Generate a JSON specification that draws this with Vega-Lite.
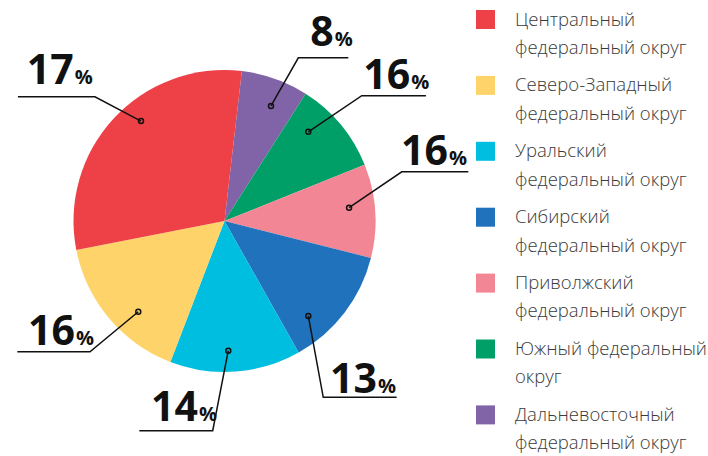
{
  "$schema": "https://vega.github.io/schema/vega-lite/v6.json",
  "width": 449,
  "height": 442,
  "padding": 0,
  "background": "white",
  "autosize": {"type": "pad"},
  "config": {"view": {"stroke": null}},
  "datasets": {
    "slices": [
      {"region": "Дальневосточный федеральный округ", "share": 7.2, "label": "8", "rank": 1},
      {"region": "Южный федеральный округ", "share": 9.9, "label": "16", "rank": 2},
      {"region": "Приволжский федеральный округ", "share": 10.0, "label": "16", "rank": 3},
      {"region": "Сибирский федеральный округ", "share": 12.9, "label": "13", "rank": 4},
      {"region": "Уральский федеральный округ", "share": 14.0, "label": "14", "rank": 5},
      {"region": "Северо-Западный федеральный округ", "share": 16.1, "label": "16", "rank": 6},
      {"region": "Центральный федеральный округ", "share": 29.9, "label": "17", "rank": 7}
    ],
    "leaders": [
      {"region": "Центральный федеральный округ", "seq": 1, "x": -55.3, "y": 66.2},
      {"region": "Центральный федеральный округ", "seq": 2, "x": -85.8, "y": 82.3},
      {"region": "Центральный федеральный округ", "seq": 3, "x": -136.8, "y": 82.3},
      {"region": "Дальневосточный федеральный округ", "seq": 1, "x": 30.8, "y": 76.2},
      {"region": "Дальневосточный федеральный округ", "seq": 2, "x": 48.9, "y": 108.1},
      {"region": "Дальневосточный федеральный округ", "seq": 3, "x": 82.0, "y": 108.1},
      {"region": "Южный федеральный округ", "seq": 1, "x": 55.5, "y": 59.1},
      {"region": "Южный федеральный округ", "seq": 2, "x": 90.9, "y": 83.0},
      {"region": "Южный федеральный округ", "seq": 3, "x": 133.4, "y": 83.0},
      {"region": "Приволжский федеральный округ", "seq": 1, "x": 82.5, "y": 8.8},
      {"region": "Приволжский федеральный округ", "seq": 2, "x": 117.4, "y": 32.6},
      {"region": "Приволжский федеральный округ", "seq": 3, "x": 161.5, "y": 32.6},
      {"region": "Сибирский федеральный округ", "seq": 1, "x": 55.5, "y": -62.9},
      {"region": "Сибирский федеральный округ", "seq": 2, "x": 65.4, "y": -116.8},
      {"region": "Сибирский федеральный округ", "seq": 3, "x": 114.0, "y": -116.8},
      {"region": "Уральский федеральный округ", "seq": 1, "x": 2.5, "y": -85.9},
      {"region": "Уральский федеральный округ", "seq": 2, "x": -7.8, "y": -138.9},
      {"region": "Уральский федеральный округ", "seq": 3, "x": -56.4, "y": -138.9},
      {"region": "Северо-Западный федеральный округ", "seq": 1, "x": -57.1, "y": -60.1},
      {"region": "Северо-Западный федеральный округ", "seq": 2, "x": -89.1, "y": -86.6},
      {"region": "Северо-Западный федеральный округ", "seq": 3, "x": -137.2, "y": -86.6}
    ],
    "labels": [
      {"region": "Центральный федеральный округ", "label": "17", "x": -99.9, "y": 90.7},
      {"region": "Дальневосточный федеральный округ", "label": "8", "x": 72.3, "y": 116.2},
      {"region": "Южный федеральный округ", "label": "16", "x": 123.0, "y": 87.2},
      {"region": "Приволжский федеральный округ", "label": "16", "x": 148.0, "y": 37.1},
      {"region": "Сибирский федеральный округ", "label": "13", "x": 101.0, "y": -113.7},
      {"region": "Уральский федеральный округ", "label": "14", "x": -17.6, "y": -132.5},
      {"region": "Северо-Западный федеральный округ", "label": "16", "x": -99.0, "y": -82.1}
    ]
  },
  "layer": [
    {
      "data": {"name": "slices"},
      "mark": {"type": "arc", "outerRadius": 151, "strokeWidth": 0},
      "encoding": {
        "theta": {"field": "share", "type": "quantitative", "stack": true, "scale": {"range": [0.1152, 6.3984]}},
        "order": {"field": "rank", "type": "quantitative"},
        "color": {
          "field": "region",
          "type": "nominal",
          "scale": {
            "domain": [
              "Центральный федеральный округ",
              "Северо-Западный федеральный округ",
              "Уральский федеральный округ",
              "Сибирский федеральный округ",
              "Приволжский федеральный округ",
              "Южный федеральный округ",
              "Дальневосточный федеральный округ"
            ],
            "range": ["#EE4047", "#FED46A", "#00BEDF", "#1F72BB", "#F38694", "#009F68", "#8064A7"]
          },
          "legend": {
            "title": null,
            "orient": "none",
            "legendX": 476,
            "legendY": 10,
            "padding": 0,
            "symbolType": "square",
            "symbolSize": 361,
            "symbolStrokeWidth": 0,
            "symbolOpacity": 1,
            "labelFont": "Open Sans",
            "labelFontSize": 18.5,
            "labelFontWeight": 300,
            "labelColor": "#3a3a3a",
            "labelLimit": 400,
            "labelOffset": 20,
            "rowPadding": 17.9,
            "labelExpr": "datum.label == 'Южный федеральный округ' ? ['Южный федеральный', 'округ'] : [split(datum.label, ' ')[0], 'федеральный округ']",
            "encode": {"labels": {"update": {"lineHeight": {"value": 28.4}}}}
          }
        }
      }
    },
    {
      "data": {"name": "leaders"},
      "mark": {"type": "line", "color": "#111111", "strokeWidth": 1.5},
      "encoding": {
        "x": {"field": "x", "type": "quantitative", "axis": null, "scale": {"domain": [-148.68, 148.68], "nice": false, "zero": false}},
        "y": {"field": "y", "type": "quantitative", "axis": null, "scale": {"domain": [-146.36, 146.36], "nice": false, "zero": false}},
        "detail": {"field": "region", "type": "nominal"},
        "order": {"field": "seq", "type": "quantitative"}
      }
    },
    {
      "data": {"name": "leaders"},
      "transform": [{"filter": "datum.seq == 1"}],
      "mark": {"type": "point", "shape": "circle", "filled": false, "size": 25, "stroke": "#111111", "strokeWidth": 1.5, "opacity": 1},
      "encoding": {
        "x": {"field": "x", "type": "quantitative", "axis": null, "scale": {"domain": [-148.68, 148.68], "nice": false, "zero": false}},
        "y": {"field": "y", "type": "quantitative", "axis": null, "scale": {"domain": [-146.36, 146.36], "nice": false, "zero": false}}
      }
    },
    {
      "data": {"name": "labels"},
      "mark": {"type": "text", "align": "right", "baseline": "alphabetic", "font": "Open Sans", "fontSize": 41, "fontWeight": 700, "color": "#111111"},
      "encoding": {
        "x": {"field": "x", "type": "quantitative", "axis": null, "scale": {"domain": [-148.68, 148.68], "nice": false, "zero": false}},
        "y": {"field": "y", "type": "quantitative", "axis": null, "scale": {"domain": [-146.36, 146.36], "nice": false, "zero": false}},
        "text": {"field": "label", "type": "nominal"}
      }
    },
    {
      "data": {"name": "labels"},
      "mark": {"type": "text", "align": "left", "baseline": "alphabetic", "dx": 1, "font": "Open Sans", "fontSize": 20, "fontWeight": 700, "color": "#111111", "text": "%"},
      "encoding": {
        "x": {"field": "x", "type": "quantitative", "axis": null, "scale": {"domain": [-148.68, 148.68], "nice": false, "zero": false}},
        "y": {"field": "y", "type": "quantitative", "axis": null, "scale": {"domain": [-146.36, 146.36], "nice": false, "zero": false}}
      }
    }
  ]
}
